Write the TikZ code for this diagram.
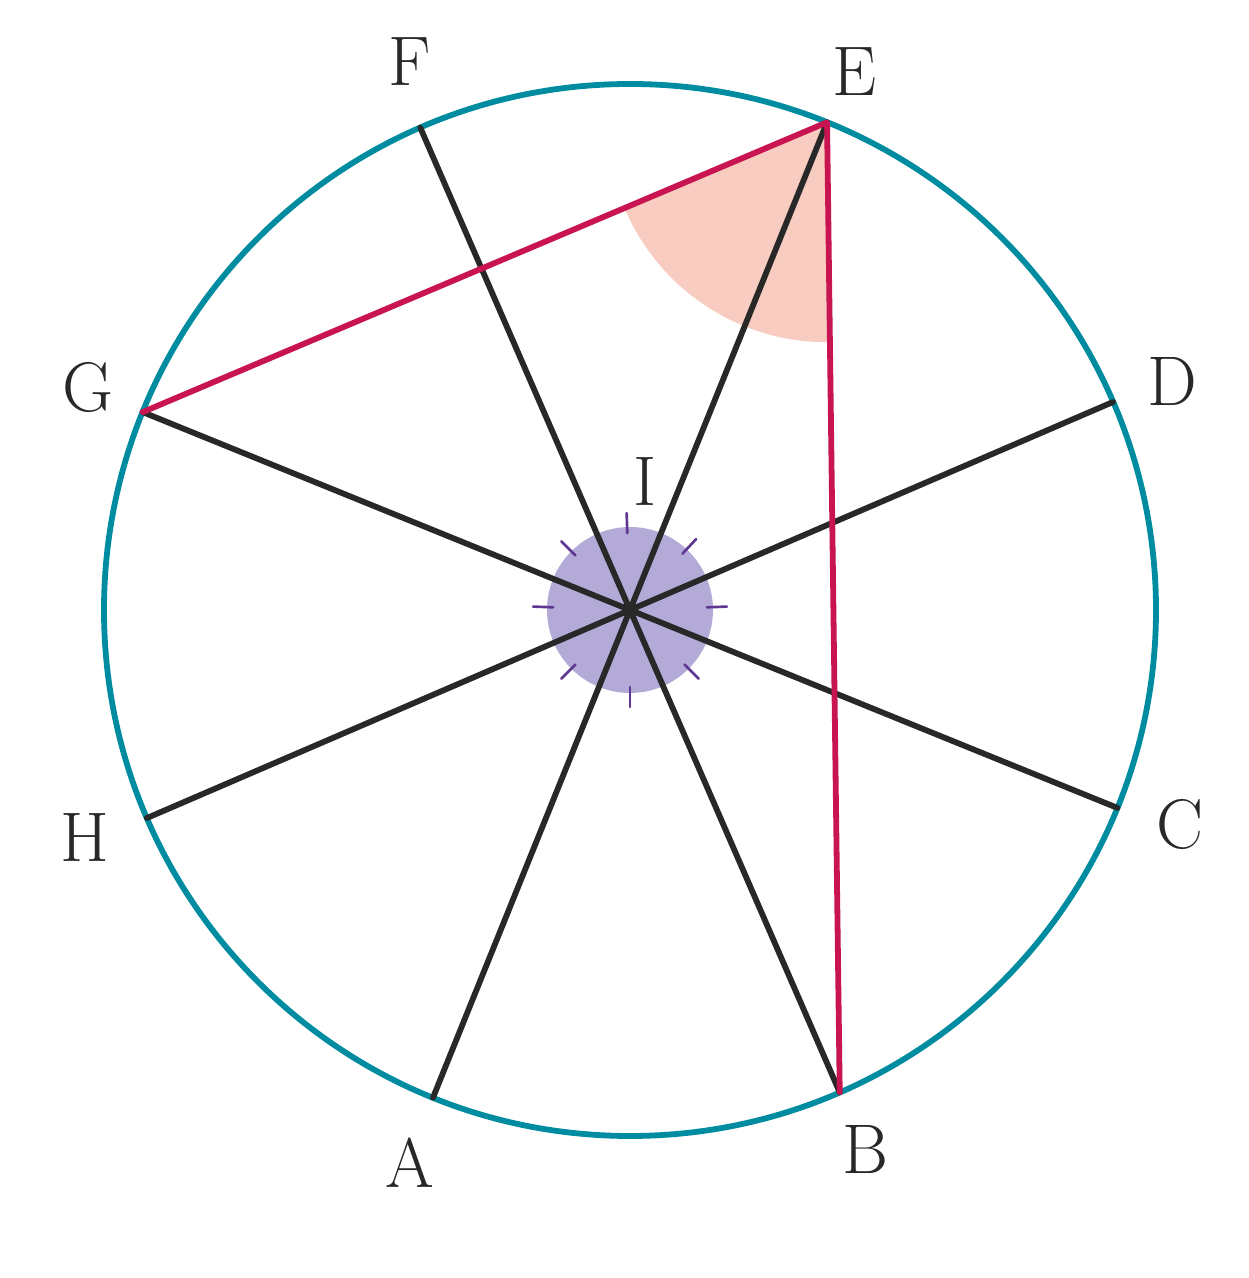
\documentclass[tikz,border=0pt]{standalone}
\usepackage{tikz}
\usetikzlibrary{calc}
\definecolor{rim}{RGB}{0,140,160}
\definecolor{chord}{RGB}{200,20,80}
\definecolor{spoke}{RGB}{40,40,40}
\definecolor{wedge}{RGB}{248,204,192}
\definecolor{hub}{RGB}{180,170,215}
\definecolor{tick}{RGB}{95,55,145}
\begin{document}
\begin{tikzpicture}[x=0.02cm,y=0.02cm,line cap=round,
    spoke line/.style={draw=spoke,line width=3.3pt},
    chord line/.style={draw=chord,line width=3.3pt},
    letter/.style={font=\fontsize{40}{40}\selectfont,text=spoke}]

  \useasboundingbox (0,0) rectangle (1248,1278);
  \coordinate (I) at (630,668);

  % points on the circle
  \coordinate (E) at ($(I)+(68:526)$);
  \coordinate (F) at ($(I)+(113.5:526)$);
  \coordinate (G) at ($(I)+(157.9:526)$);
  \coordinate (H) at ($(I)+(203.3:526)$);
  \coordinate (A) at ($(I)+(248:526)$);
  \coordinate (B) at ($(I)+(293.5:526)$);
  \coordinate (C) at ($(I)+(337.9:526)$);
  \coordinate (D) at ($(I)+(23.3:526)$);

  \fill[wedge] (E) -- ++(202.5:220) arc (202.5:270.7:220) -- cycle;
  \fill[hub] (I) circle (83);
  \foreach \a in {2,47,92,135,178,225,270,315}
    \draw[tick,line width=1.5pt] ($(I)+(\a:77)$) -- ($(I)+(\a:97)$);

  \draw[rim,line width=3.3pt] (I) circle (526);

  \path[spoke line] (E) -- (A) (F) -- (B) (G) -- (C) (D) -- (H);
  \draw[chord line,line join=round] (G) -- (E) -- (B);

  \node[letter] (nF) at (410,1216) {F};
  \node[letter] (nE) at (855,1206) {E};
  \node[letter] (nD) at (1172,896) {D};
  \node[letter] (nC) at (1180,453) {C};
  \node[letter] (nB) at (865,128) {B};
  \node[letter] (nA) at (410,115) {A};
  \node[letter] (nH) at (85,440) {H};
  \node[letter] (nG) at (88,890) {G};
  \node[letter] (nI) at (645,796) {I};
\end{tikzpicture}
\end{document}
